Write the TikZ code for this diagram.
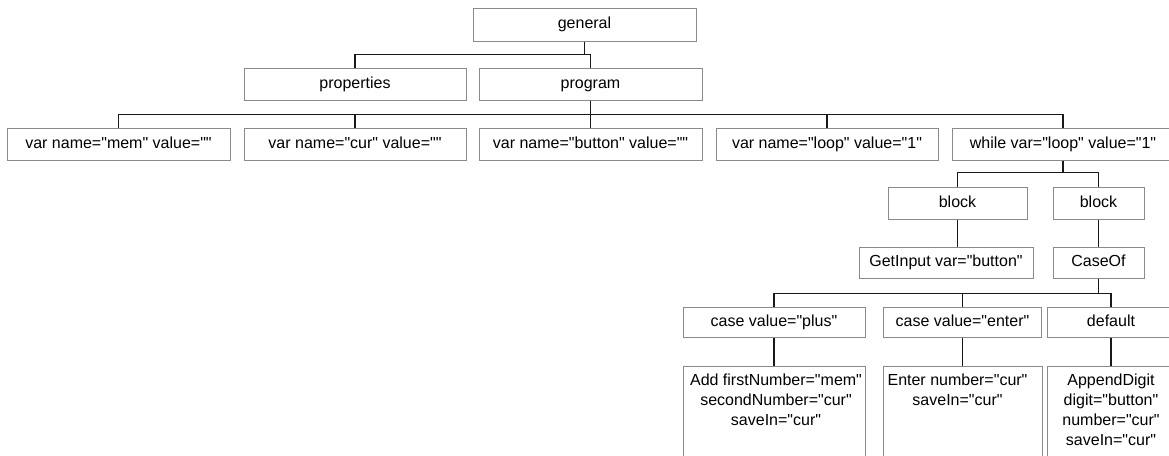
\documentclass[tikz,border=0pt]{standalone}
\usepackage{fontspec}
\setmainfont{Liberation Sans}[Ligatures=TeXOff]
\definecolor{boxline}{HTML}{8A8A8A}
\begin{document}
\begin{tikzpicture}[x=1pt,y=-1pt,
		box/.style={draw=boxline,line width=1pt,inner sep=0pt,minimum height=32pt,
			text height=11.5pt,text depth=3.5pt,font=\fontsize{16}{20}\selectfont},
		leaf/.style={align=center,inner sep=0pt,anchor=north,
			font=\fontsize{16}{20}\selectfont},
		wire/.style={line width=1.2pt,black!90}]
		\useasboundingbox (0,0) rectangle (1169,455);
		\clip (0,0) rectangle (1169,455);
		% top levels
		\node[box,minimum width=223pt,minimum height=33pt] (general) at (584.5,24.5) {general};
		\node[box,minimum width=222pt] (properties) at (355,84) {properties};
		\node[box,minimum width=223pt] (program) at (590.5,84) {program};
		\node[box,minimum width=223pt] (mem) at (118.5,144) {var name="mem" value=""};
		\node[box,minimum width=222pt] (cur) at (355,144) {var name="cur" value=""};
		\node[box,minimum width=223pt] (button) at (590.5,144) {var name="button" value=""};
		\node[box,minimum width=222pt] (loop) at (827,144) {var name="loop" value="1"};
		\node[box,minimum width=222pt] (while) at (1063,144) {while var="loop" value="1"};
		% loop body
		\node[box,minimum width=139pt] (block1) at (957.5,203) {block};
		\node[box,minimum width=91pt] (block2) at (1098.5,203) {block};
		\node[box,minimum width=174pt,minimum height=31pt] (getinput) at (946,262.5) {GetInput var="button"};
		\node[box,minimum width=91pt,minimum height=31pt] (caseof) at (1098.5,262.5) {CaseOf};
		\node[box,minimum width=182pt,minimum height=30pt] (plus) at (774,322) {case value="plus"};
		\node[box,minimum width=158pt,minimum height=30pt] (enter) at (962.5,322) {case value="enter"};
		\node[box,minimum width=128pt,minimum height=30pt] (default) at (1111,322) {default};
		\node[box,minimum width=182pt,minimum height=120pt,anchor=north] (add) at (774,366) {};
		\node[box,minimum width=159pt,minimum height=120pt,anchor=north] (enterop) at (962.5,366) {};
		\node[box,minimum width=128pt,minimum height=120pt,anchor=north] (append) at (1111,366) {};
		\node[leaf] (addtext) at ([xshift=2pt,yshift=-8pt]add.north)
			{Add firstNumber="mem"\\secondNumber="cur"\\saveIn="cur"};
		\node[leaf] (entertext) at ([xshift=-5pt,yshift=-8pt]enterop.north)
			{Enter number="cur"\\saveIn="cur"};
		\node[leaf] (appendtext) at ([yshift=-8pt]append.north)
			{AppendDigit\\digit="button"\\number="cur"\\saveIn="cur"};
		% edges
		\foreach \c in {properties,program}
			\draw[wire] (general.south) -- ++(0,13) -| (\c.north);
		\foreach \c in {mem,cur,button,loop,while}
			\draw[wire] (program.south) -- ++(0,14) -| (\c.north);
		\foreach \c in {block1,block2}
			\draw[wire] (while.south) -- ++(0,12) -| (\c.north);
		\draw[wire] (block1.south) -- (block1.south |- getinput.north);
		\draw[wire] (block2.south) -- (caseof.north);
		\foreach \c in {plus,enter,default}
			\draw[wire] (caseof.south) -- ++(0,15) -| (\c.north);
		\draw[wire] (plus.south) -- (add.north);
		\draw[wire] (enter.south) -- (enterop.north);
		\draw[wire] (default.south) -- (append.north);
	\end{tikzpicture}
\end{document}
